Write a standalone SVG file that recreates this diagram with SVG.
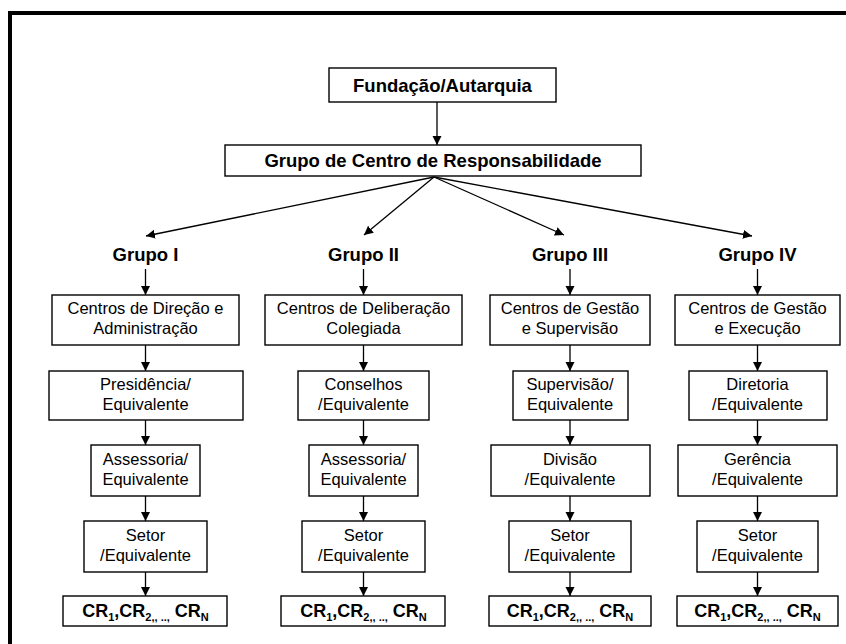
<svg xmlns="http://www.w3.org/2000/svg" width="846" height="644" viewBox="0 0 846 644">
  <style>
    .box { fill: #fff; stroke: #000; stroke-width: 1.4; }
    .frame { fill: none; stroke: #000; stroke-width: 4; }
    .t { font-family: "Liberation Sans", Arial, sans-serif; font-size: 16.5px; fill: #000; text-anchor: middle; }
    .b { font-family: "Liberation Sans", Arial, sans-serif; font-size: 18.5px; font-weight: bold; fill: #000; text-anchor: middle; }
    .cr { font-family: "Liberation Sans", Arial, sans-serif; font-size: 18px; font-weight: bold; fill: #000; text-anchor: middle; }
    .sub { font-size: 11px; }
    .edge { fill: none; stroke: #000; stroke-width: 1.3; marker-end: url(#arrow); }
  </style>
  <defs>
    <marker id="arrow" markerUnits="userSpaceOnUse" markerWidth="10" markerHeight="10" refX="9" refY="4.5" orient="auto">
      <path d="M0,0 L9,4.5 L0,9 Z" fill="#000"/>
    </marker>
  </defs>

  <rect width="846" height="644" fill="#fff"/>
  <!-- page frame: top and left rules only -->
  <path class="frame" d="M10,644 V13 H846"/>

  <!-- connectors -->
  <g id="connectors">
    <line class="edge" x1="437" y1="102" x2="437" y2="145"/>
    <line class="edge" x1="434" y1="177" x2="146" y2="236"/>
    <line class="edge" x1="434" y1="177" x2="364" y2="235"/>
    <line class="edge" x1="434" y1="177" x2="564" y2="235"/>
    <line class="edge" x1="434" y1="177" x2="752" y2="236"/>

    <line class="edge" x1="145.5" y1="269" x2="145.5" y2="295"/>
    <line class="edge" x1="145.5" y1="345" x2="145.5" y2="371"/>
    <line class="edge" x1="145.5" y1="420" x2="145.5" y2="445"/>
    <line class="edge" x1="145.5" y1="496" x2="145.5" y2="521"/>
    <line class="edge" x1="145.5" y1="572" x2="145.5" y2="596"/>

    <line class="edge" x1="363.5" y1="269" x2="363.5" y2="295"/>
    <line class="edge" x1="363.5" y1="345" x2="363.5" y2="371"/>
    <line class="edge" x1="363.5" y1="420" x2="363.5" y2="445"/>
    <line class="edge" x1="363.5" y1="496" x2="363.5" y2="521"/>
    <line class="edge" x1="363.5" y1="572" x2="363.5" y2="596"/>

    <line class="edge" x1="570" y1="269" x2="570" y2="295"/>
    <line class="edge" x1="570" y1="345" x2="570" y2="371"/>
    <line class="edge" x1="570" y1="420" x2="570" y2="445"/>
    <line class="edge" x1="570" y1="496" x2="570" y2="521"/>
    <line class="edge" x1="570" y1="572" x2="570" y2="596"/>

    <line class="edge" x1="757.5" y1="269" x2="757.5" y2="295"/>
    <line class="edge" x1="757.5" y1="345" x2="757.5" y2="371"/>
    <line class="edge" x1="757.5" y1="420" x2="757.5" y2="445"/>
    <line class="edge" x1="757.5" y1="496" x2="757.5" y2="521"/>
    <line class="edge" x1="757.5" y1="572" x2="757.5" y2="596"/>
  </g>

  <!-- top of the hierarchy -->
  <g id="fundacao">
    <rect class="box" x="329" y="68" width="227" height="34"/>
    <text class="b" x="442.5" y="92">Fundação/Autarquia</text>
  </g>
  <g id="grupo-centro">
    <rect class="box" x="225" y="145" width="416" height="31"/>
    <text class="b" x="433" y="166.5">Grupo de Centro de Responsabilidade</text>
  </g>

  <!-- group headings -->
  <g id="grupo-1"><text class="b" x="145.5" y="261">Grupo I</text></g>
  <g id="grupo-2"><text class="b" x="363.5" y="261">Grupo II</text></g>
  <g id="grupo-3"><text class="b" x="570" y="261">Grupo III</text></g>
  <g id="grupo-4"><text class="b" x="757.5" y="261">Grupo IV</text></g>

  <!-- column I -->
  <g id="g1-centros">
    <rect class="box" x="52" y="295" width="187" height="50"/>
    <text class="t" x="145.5" y="314">Centros de Direção e</text>
    <text class="t" x="145.5" y="334">Administração</text>
  </g>
  <g id="g1-presidencia">
    <rect class="box" x="49" y="371" width="194" height="49"/>
    <text class="t" x="145.5" y="390">Presidência/</text>
    <text class="t" x="145.5" y="410">Equivalente</text>
  </g>
  <g id="g1-assessoria">
    <rect class="box" x="91" y="445" width="109" height="51"/>
    <text class="t" x="145.5" y="465">Assessoria/</text>
    <text class="t" x="145.5" y="485">Equivalente</text>
  </g>
  <g id="g1-setor">
    <rect class="box" x="84" y="521" width="123" height="51"/>
    <text class="t" x="145.5" y="541">Setor</text>
    <text class="t" x="145.5" y="561">/Equivalente</text>
  </g>
  <g id="g1-cr">
    <rect class="box" x="63" y="596" width="164" height="30"/>
    <text class="cr" x="145.5" y="617">CR<tspan class="sub" dy="4">1</tspan><tspan dy="-4">,CR</tspan><tspan class="sub" dy="4">2,, ..,</tspan><tspan dy="-4"> CR</tspan><tspan class="sub" dy="4">N</tspan></text>
  </g>

  <!-- column II -->
  <g id="g2-centros">
    <rect class="box" x="265" y="295" width="197" height="50"/>
    <text class="t" x="363.5" y="314">Centros de Deliberação</text>
    <text class="t" x="363.5" y="334">Colegiada</text>
  </g>
  <g id="g2-conselhos">
    <rect class="box" x="298" y="371" width="131" height="49"/>
    <text class="t" x="363.5" y="390">Conselhos</text>
    <text class="t" x="363.5" y="410">/Equivalente</text>
  </g>
  <g id="g2-assessoria">
    <rect class="box" x="309" y="445" width="109" height="51"/>
    <text class="t" x="363.5" y="465">Assessoria/</text>
    <text class="t" x="363.5" y="485">Equivalente</text>
  </g>
  <g id="g2-setor">
    <rect class="box" x="302" y="521" width="123" height="51"/>
    <text class="t" x="363.5" y="541">Setor</text>
    <text class="t" x="363.5" y="561">/Equivalente</text>
  </g>
  <g id="g2-cr">
    <rect class="box" x="281" y="596" width="164" height="30"/>
    <text class="cr" x="363.5" y="617">CR<tspan class="sub" dy="4">1</tspan><tspan dy="-4">,CR</tspan><tspan class="sub" dy="4">2,, ..,</tspan><tspan dy="-4"> CR</tspan><tspan class="sub" dy="4">N</tspan></text>
  </g>

  <!-- column III -->
  <g id="g3-centros">
    <rect class="box" x="490" y="295" width="160" height="50"/>
    <text class="t" x="570" y="314">Centros de Gestão</text>
    <text class="t" x="570" y="334">e Supervisão</text>
  </g>
  <g id="g3-supervisao">
    <rect class="box" x="513" y="371" width="115" height="49"/>
    <text class="t" x="570" y="390">Supervisão/</text>
    <text class="t" x="570" y="410">Equivalente</text>
  </g>
  <g id="g3-divisao">
    <rect class="box" x="491" y="445" width="159" height="51"/>
    <text class="t" x="570" y="465">Divisão</text>
    <text class="t" x="570" y="485">/Equivalente</text>
  </g>
  <g id="g3-setor">
    <rect class="box" x="509" y="521" width="122" height="51"/>
    <text class="t" x="570" y="541">Setor</text>
    <text class="t" x="570" y="561">/Equivalente</text>
  </g>
  <g id="g3-cr">
    <rect class="box" x="489" y="596" width="162" height="30"/>
    <text class="cr" x="570" y="617">CR<tspan class="sub" dy="4">1</tspan><tspan dy="-4">,CR</tspan><tspan class="sub" dy="4">2,, ..,</tspan><tspan dy="-4"> CR</tspan><tspan class="sub" dy="4">N</tspan></text>
  </g>

  <!-- column IV -->
  <g id="g4-centros">
    <rect class="box" x="675" y="295" width="165" height="50"/>
    <text class="t" x="757.5" y="314">Centros de Gestão</text>
    <text class="t" x="757.5" y="334">e Execução</text>
  </g>
  <g id="g4-diretoria">
    <rect class="box" x="689" y="371" width="138" height="49"/>
    <text class="t" x="757.5" y="390">Diretoria</text>
    <text class="t" x="757.5" y="410">/Equivalente</text>
  </g>
  <g id="g4-gerencia">
    <rect class="box" x="678" y="445" width="159" height="51"/>
    <text class="t" x="757.5" y="465">Gerência</text>
    <text class="t" x="757.5" y="485">/Equivalente</text>
  </g>
  <g id="g4-setor">
    <rect class="box" x="697" y="521" width="121" height="51"/>
    <text class="t" x="757.5" y="541">Setor</text>
    <text class="t" x="757.5" y="561">/Equivalente</text>
  </g>
  <g id="g4-cr">
    <rect class="box" x="677" y="596" width="161" height="30"/>
    <text class="cr" x="757.5" y="617">CR<tspan class="sub" dy="4">1</tspan><tspan dy="-4">,CR</tspan><tspan class="sub" dy="4">2,, ..,</tspan><tspan dy="-4"> CR</tspan><tspan class="sub" dy="4">N</tspan></text>
  </g>
</svg>
